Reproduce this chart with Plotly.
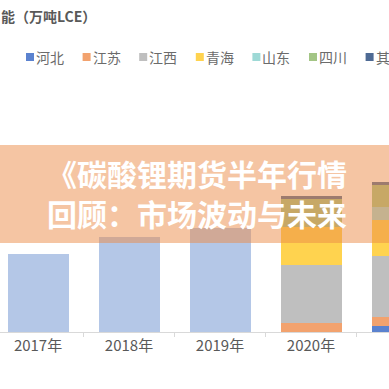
import plotly.graph_objects as go

W, H = 389, 389
FONT = "Noto Sans CJK SC"

# ---- data ----
years = ["2017年", "2018年", "2019年", "2020年", "2021年"]
total_early = [39, 47.5, 52, 0, 0]          # light-blue totals (no legend entry)
series_names = ["河北", "江苏", "江西", "青海", "山东", "四川", "其他"]
hebei   = [0, 0, 0, 0, 3]
jiangsu = [0, 0, 0, 4.5, 4.5]
jiangxi = [0, 0, 0, 29, 30.5]
qinghai = [0, 0, 0, 19, 18]
shandong = [0, 0, 0, 0, 6.5]
sichuan = [0, 0, 0, 14, 11]
qita    = [0, 0, 0, 1.5, 1.5]
series_values = [hebei, jiangsu, jiangxi, qinghai, shandong, sichuan, qita]
series_colors = ["#5B82CF", "#F2A26E", "#BFBFBF", "#FFD34F", "#9ED9D6", "#A3C585", "#4E6A94"]

title_text = "能（万吨LCE）"
banner_lines = ["《碳酸锂期货半年行情", "回顾：市场波动与未来"]

# ---- layout geometry ----
M_T, M_B = 80, 57
PLOT_H = H - M_T - M_B


def py(pix):
    """pixel row -> paper y"""
    return (H - M_B - pix) / PLOT_H


def px(pix):
    return pix / W


fig = go.Figure()
fig.add_trace(go.Bar(x=years, y=total_early, marker_color="#B4C7E7",
                     marker_line_width=0, showlegend=False, name="合计"))
for name, vals, col in zip(series_names, series_values, series_colors):
    fig.add_trace(go.Bar(x=years, y=vals, name=name, marker_color=col,
                         marker_line_width=0, showlegend=False))

shapes = []
annotations = []

# manual legend
leg_x0, leg_step, leg_y = 30, 56.6, 57
for i, (name, col) in enumerate(zip(series_names, series_colors)):
    cx = leg_x0 + i * leg_step
    shapes.append(dict(type="rect", xref="paper", yref="paper",
                       x0=px(cx - 4), x1=px(cx + 4), y0=py(leg_y + 4), y1=py(leg_y - 4),
                       fillcolor=col, line_width=0, layer="above"))
    annotations.append(dict(text=name, xref="paper", yref="paper",
                            x=px(cx + 4), y=py(leg_y), xanchor="left", yanchor="middle",
                            showarrow=False, font=dict(family=FONT, size=14, color="#6B6B6B")))

# title (cropped)
annotations.append(dict(text=title_text, xref="paper", yref="paper",
                        x=px(-1), y=py(16), xanchor="left", yanchor="middle",
                        showarrow=False,
                        font=dict(family=FONT, size=14, color="#595959", weight="bold")))

# banner overlay
shapes.append(dict(type="rect", xref="paper", yref="paper",
                   x0=0, x1=1, y0=py(243), y1=py(145),
                   fillcolor="rgba(236,140,72,0.5)", line_width=0, layer="above"))

for line, yc in zip(banner_lines, [173, 213]):
    annotations.append(dict(text=line, xref="paper", yref="paper",
                            x=px(46), y=py(yc), xanchor="left", yanchor="middle",
                            align="left", showarrow=False, borderpad=0,
                            font=dict(family=FONT, size=30, color="white", weight="bold")))

fig.update_layout(
    width=W, height=H,
    margin=dict(l=0, r=0, t=M_T, b=M_B),
    paper_bgcolor="white", plot_bgcolor="white",
    barmode="stack", bargap=0.33,
    showlegend=False,
    shapes=shapes, annotations=annotations,
    xaxis=dict(type="category", range=[-0.418, 3.857], showgrid=False,
               showline=True, linecolor="#D9D9D9", linewidth=1,
               ticks="outside", tickson="boundaries", ticklen=4, tickcolor="#D9D9D9",
               tickfont=dict(family=FONT, size=15, color="#595959"), fixedrange=True),
    yaxis=dict(range=[0, PLOT_H / 2], visible=False, showgrid=False, zeroline=False,
               fixedrange=True),
)

fig.write_html("out.html", config={"displayModeBar": False},
               post_script="document.body.style.margin='0';document.body.style.padding='0';")
